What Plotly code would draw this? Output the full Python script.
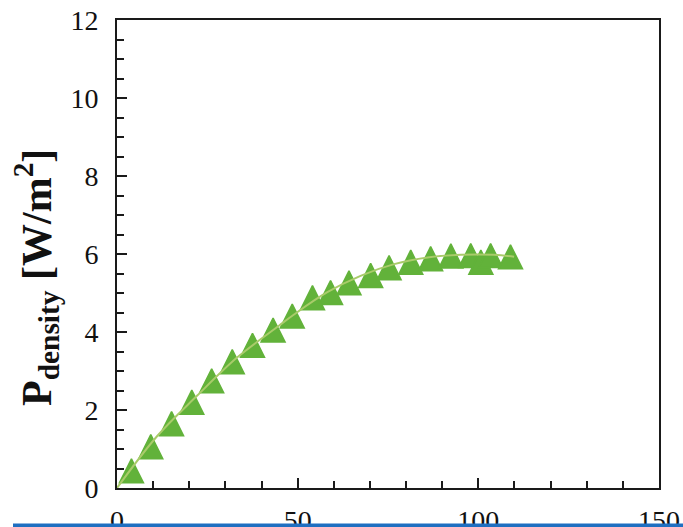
import plotly.graph_objects as go

# Measured power density points
x_vals = [4.0, 9.35, 15.1, 20.7, 26.2, 31.9, 37.5, 43.2, 48.5, 54.1, 59.1,
          64.2, 70.2, 75.3, 81.3, 86.8, 92.4, 97.9, 100.7, 103.4, 108.9]
p_density = [0.44, 1.06, 1.65, 2.20, 2.75, 3.24, 3.66, 4.05, 4.41, 4.88, 5.01,
             5.26, 5.45, 5.65, 5.79, 5.88, 5.95, 5.96, 5.79, 5.96, 5.93]

# Smooth trend curve
trend_x = [0, 11.2, 22.2, 33.3, 44.8, 49.0, 58.2, 67.4, 76.7, 85.9, 95.1, 104.3, 109.9]
trend_y = [0, 1.34, 2.37, 3.35, 4.16, 4.45, 5.02, 5.44, 5.74, 5.91, 5.98, 5.98, 5.93]

x_ticks = [0, 50, 100, 150]
y_ticks = [0, 2, 4, 6, 8, 10, 12]

W, H = 683, 527
L, R, T, B = 117, 24, 20, 39
pw, ph = W - L - R, H - T - B

SERIF = "Liberation Serif"
INK = "#111111"
MARKER_SIZE = 24


def px_to_paper(px, py):
    """Convert page pixel coordinates into paper coordinates."""
    return (px - L) / pw, (H - B - py) / ph


fig = go.Figure()
# Tall triangles: a flipped arrow marker is as tall as it is wide;
# the standoff shifts it so the triangle is centred on its point
fig.add_trace(go.Scatter(
    x=x_vals, y=p_density, mode="markers",
    marker=dict(symbol="arrow-down", angle=180, size=MARKER_SIZE, color="#62B23A",
                standoff=MARKER_SIZE / 2,
                line=dict(color="#62B23A", width=1.5)),
    showlegend=False,
))
fig.add_trace(go.Scatter(
    x=trend_x, y=trend_y, mode="lines", line_shape="spline",
    line=dict(color="#A9CB6A", width=2),
    showlegend=False,
))

axis_common = dict(
    ticks="inside", ticklen=10, tickwidth=2, tickcolor="#1a1a1a",
    showline=True, linecolor="#1a1a1a", linewidth=2, mirror=True,
    showgrid=False, zeroline=False, automargin=False,
    tickfont=dict(family=SERIF, size=28, color=INK),
)

fig.update_layout(
    width=W, height=H,
    margin=dict(l=L, r=R, t=T, b=B, pad=0, autoexpand=False),
    paper_bgcolor="white", plot_bgcolor="white",
    font=dict(family=SERIF, size=28, color=INK),
    xaxis=dict(
        range=[0, 150], tickvals=x_ticks, ticklabelstandoff=6,
        minor=dict(dtick=10, ticks="inside", ticklen=7, tickwidth=2, tickcolor="#1a1a1a",
                   showgrid=False),
        **axis_common,
    ),
    yaxis=dict(
        range=[0, 12], tickvals=y_ticks, ticklabelstandoff=11,
        minor=dict(dtick=0.5, ticks="inside", ticklen=7, tickwidth=2, tickcolor="#1a1a1a",
                   showgrid=False),
        **axis_common,
    ),
)

# Y-axis title, placed as a rotated annotation
tx, ty = px_to_paper(36, 278)
fig.add_annotation(
    text="<b>P<sub>density</sub> [W/m<sup>2</sup>]</b>",
    xref="paper", yref="paper", x=tx, y=ty, xanchor="center", yanchor="middle",
    textangle=-90, showarrow=False,
    font=dict(family=SERIF, size=42, color=INK),
)

# Blue rule across the bottom edge of the page
x0, y0 = px_to_paper(13, 527)
x1, y1 = px_to_paper(W, 523.5)
fig.add_shape(type="rect", xref="paper", yref="paper",
              x0=x0, x1=x1, y0=y0, y1=y1,
              fillcolor="#1F6FC1", line=dict(width=0), layer="above")

fig.write_html("out.html")
